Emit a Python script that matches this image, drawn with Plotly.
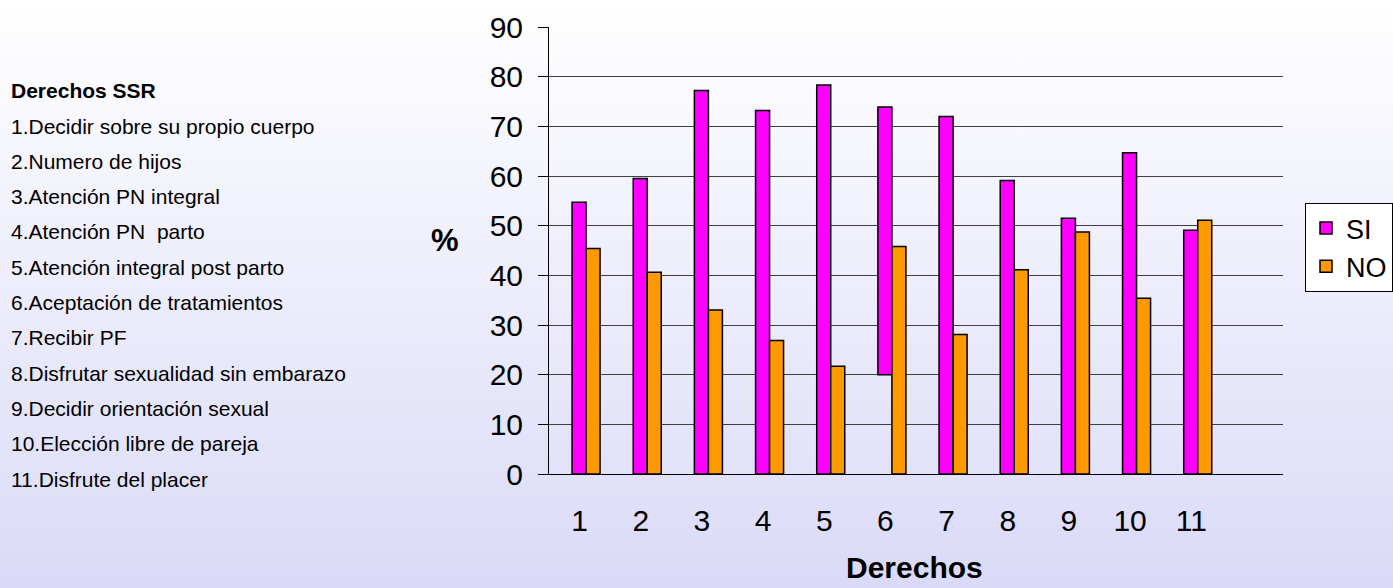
import plotly.graph_objects as go

categories = ["1", "2", "3", "4", "5", "6", "7", "8", "9", "10", "11"]
si_values = [54.7, 59.5, 77.2, 73.2, 78.3, 73.9, 72.0, 59.1, 51.5, 64.7, 49.1]
si_base = [0, 0, 0, 0, 0, 20, 0, 0, 0, 0, 0]
no_values = [45.4, 40.6, 33.0, 26.9, 21.7, 45.8, 28.1, 41.1, 48.7, 35.4, 51.1]
y_ticks = [0, 10, 20, 30, 40, 50, 60, 70, 80, 90]
side_title = "Derechos SSR"
side_items = [
    "1.Decidir sobre su propio cuerpo",
    "2.Numero de hijos",
    "3.Atención PN integral",
    "4.Atención PN  parto",
    "5.Atención integral post parto",
    "6.Aceptación de tratamientos",
    "7.Recibir PF",
    "8.Disfrutar sexualidad sin embarazo",
    "9.Decidir orientación sexual",
    "10.Elección libre de pareja",
    "11.Disfrute del placer",
]

W, H = 1393, 588
L, R, T, B = 549, 110, 27, 114
PW, PH = W - L - R, H - T - B
FONT = "Arial, Liberation Sans, sans-serif"
BAR_W = 0.229
SHIFT = 0.106


def px_x(p):
    return (p - L) / PW


def px_y(p):
    return (H - B - p) / PH


si_heights = [v - b for v, b in zip(si_values, si_base)]

fig = go.Figure()
fig.add_trace(go.Bar(
    name="SI", x=categories, y=si_heights, base=si_base,
    width=BAR_W, offset=-BAR_W + SHIFT,
    marker=dict(color="#FF00FF", line=dict(color="black", width=1.5)),
))
fig.add_trace(go.Bar(
    name="NO", x=categories, y=no_values,
    width=BAR_W, offset=SHIFT,
    marker=dict(color="#FF9900", line=dict(color="black", width=1.5)),
))

grad = ("data:image/svg+xml;utf8,"
        "<svg xmlns='http://www.w3.org/2000/svg' width='100' height='100' preserveAspectRatio='none'>"
        "<defs><linearGradient id='g' x1='0' y1='0' x2='0' y2='1'>"
        "<stop offset='0' stop-color='%23FFFFFF'/><stop offset='1' stop-color='%23DADAF8'/>"
        "</linearGradient></defs><rect width='100' height='100' fill='url(%23g)'/></svg>")

annotations = [
    dict(text="<b>%</b>", x=px_x(445), y=px_y(240), xref="paper", yref="paper",
         showarrow=False, font=dict(size=31, color="black", family=FONT),
         xanchor="center", yanchor="middle"),
    dict(text="<b>Derechos</b>", x=px_x(914), y=px_y(567), xref="paper", yref="paper",
         showarrow=False, font=dict(size=30, color="black", family=FONT),
         xanchor="center", yanchor="middle", borderpad=0),
    dict(text="<b>" + side_title + "</b>", x=px_x(9), y=px_y(90), xref="paper", yref="paper",
         showarrow=False, font=dict(size=21, color="black", family=FONT),
         xanchor="left", yanchor="middle"),
]
for i, item in enumerate(side_items):
    annotations.append(dict(
        text=item, x=px_x(9), y=px_y(126 + 35.3 * i), xref="paper", yref="paper",
        showarrow=False, font=dict(size=21, color="black", family=FONT),
        xanchor="left", yanchor="middle"))

fig.update_layout(
    width=W, height=H,
    margin=dict(l=L, r=R, t=T, b=B, autoexpand=False),
    paper_bgcolor="white", plot_bgcolor="rgba(0,0,0,0)",
    barmode="group",
    font=dict(family=FONT, color="black"),
    images=[dict(source=grad, xref="paper", yref="paper",
                 x=-L / PW, y=1 + T / PH, sizex=W / PW, sizey=H / PH,
                 xanchor="left", yanchor="top", sizing="stretch", layer="below")],
    xaxis=dict(
        type="category", range=[-0.5, 11.5],
        showgrid=False, showline=True, linecolor="black", linewidth=1,
        ticks="", tickfont=dict(size=30, family=FONT, color="black"),
        ticklabelstandoff=20, zeroline=False,
    ),
    yaxis=dict(
        range=[0, 90], tickvals=y_ticks,
        showgrid=True, gridcolor="#404040", gridwidth=1,
        showline=True, linecolor="black", linewidth=1,
        ticks="outside", ticklen=10, tickcolor="black",
        tickfont=dict(size=30, family=FONT, color="black"),
        ticklabelstandoff=9, zeroline=False,
    ),
    legend=dict(
        x=px_x(1305), y=px_y(203), xanchor="left", yanchor="top",
        bgcolor="white", bordercolor="black", borderwidth=1,
        font=dict(size=27, family=FONT, color="black"),
        itemwidth=30, tracegroupgap=0,
    ),
    annotations=annotations,
)

fig.write_html("out.html", post_script="document.body.style.margin='0';",
               config={"displayModeBar": False})
